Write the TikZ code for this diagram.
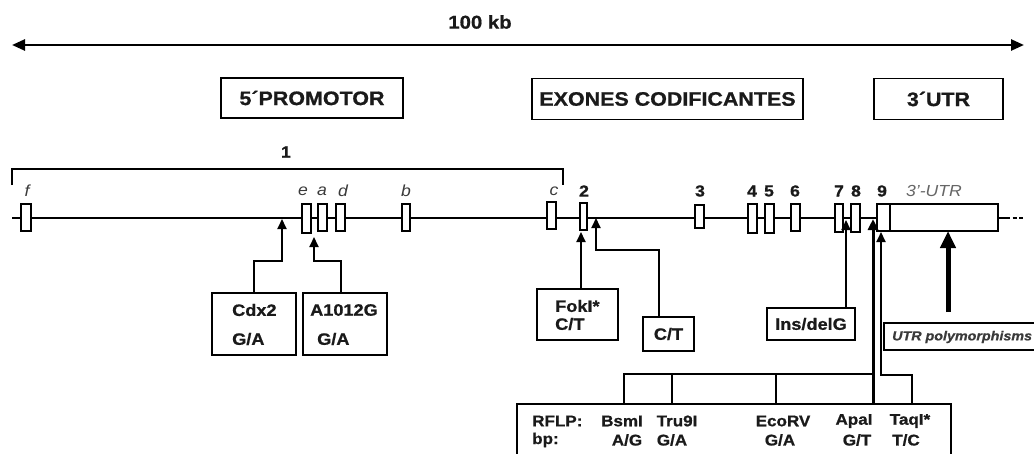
\documentclass[tikz,border=0pt]{standalone}
\usepackage{fontspec}
\setmainfont[FakeStretch=1.1, BoldFeatures={FakeBold=0.8}, BoldItalicFeatures={FakeBold=0.8}]{Liberation Sans}
\usetikzlibrary{arrows.meta}
\definecolor{txt}{HTML}{1A1A1A}
\definecolor{itxt}{HTML}{3A3A3A}
\begin{document}
\begin{tikzpicture}[x=1pt,y=-1pt,
  exon/.style={draw, line width=1.4pt, fill=white, inner sep=0pt},
  tbox/.style={draw, line width=1.4pt, inner sep=0pt, text=txt, font=\bfseries\fontsize{19.5}{22}\selectfont},
  lbox/.style={draw, line width=1.4pt, inner sep=0pt},
  num/.style={text=txt, inner sep=0pt, font=\bfseries\fontsize{16}{18}\selectfont},
  letter/.style={text=itxt, inner sep=0pt, font=\itshape\fontsize{16}{18}\selectfont},
  btxt/.style={text=txt, inner sep=0pt, font=\bfseries\fontsize{16.5}{19}\selectfont},
  rtxt/.style={text=txt, inner sep=0pt, font=\bfseries\fontsize{15.5}{18}\selectfont},
  conn/.style={line width=1.9pt, -{Triangle[length=10pt,width=9pt]}},
  plain/.style={line width=1.9pt}
]
\useasboundingbox (0,0) rectangle (1034,453);
\fill[white] (0,0) rectangle (1034,453);

% scale arrow
\coordinate (sl) at (12,45);
\coordinate (sr) at (1024,45);
\draw[line width=2.6pt, {Triangle[length=13pt,width=11pt]}-{Triangle[length=13pt,width=11pt]}] (sl) -- (sr);
\node[text=txt, inner sep=0pt, font=\bfseries\fontsize{18.5}{21}\selectfont] (kb) at (480,22) {100 kb};

% region boxes
\node[tbox, minimum width=182pt, minimum height=40pt] (prom) at (312,98) {5´PROMOTOR};
\node[tbox, minimum width=271pt, minimum height=41pt] (exo) at (667.5,99) {EXONES CODIFICANTES};
\node[tbox, minimum width=129pt, minimum height=41pt] (utr3) at (938.5,99) {3´UTR};

% exon 1 bracket
\coordinate (bl) at (12,185);
\coordinate (br) at (563,185);
\draw[line width=1.4pt] (bl) -- ++(0,-16) -| (br);
\node[num] (one) at (286,152) {1};

% gene line
\coordinate (gs) at (12,218);
\coordinate (ge) at (1006,218);
\coordinate (gd) at (1024,218);
\draw[line width=2.2pt] (gs) -- (ge);
\draw[line width=2.2pt, dash pattern=on 4pt off 2.5pt] (ge) -- (gd);

% exons
\node[exon, minimum width=10pt, minimum height=27pt] (xf) at (26,217.5) {};
\node[exon, minimum width=9pt, minimum height=29pt] (xe) at (306.5,218.5) {};
\node[exon, minimum width=9pt, minimum height=27pt] (xa) at (322.5,217.5) {};
\node[exon, minimum width=9pt, minimum height=27pt] (xd) at (340.5,217.5) {};
\node[exon, minimum width=8pt, minimum height=27pt] (xb) at (406,217.5) {};
\node[exon, minimum width=9pt, minimum height=27pt] (xc) at (551.5,215.5) {};
\node[exon, minimum width=7pt, minimum height=27pt] (x2) at (583.5,216.5) {};
\node[exon, minimum width=9pt, minimum height=23pt] (x3) at (699.5,216.5) {};
\node[exon, minimum width=9pt, minimum height=29pt] (x4) at (752.5,218.5) {};
\node[exon, minimum width=9pt, minimum height=29pt] (x5) at (769.5,218.5) {};
\node[exon, minimum width=9pt, minimum height=27pt] (x6) at (795.5,217.5) {};
\node[exon, minimum width=8pt, minimum height=28pt] (x7) at (839,218) {};
\node[exon, minimum width=9pt, minimum height=28pt] (x8) at (855.5,218) {};
\node[exon, minimum width=13pt, minimum height=27pt] (x9) at (883.5,217.5) {};
\node[exon, minimum width=108pt, minimum height=27pt] (xu) at (944,217.5) {};

% exon labels
\node[letter] (lf) at (27,191) {f};
\node[letter] (le) at (303,191) {e};
\node[letter] (la) at (322,191) {a};
\node[letter] (ld) at (343,191) {d};
\node[letter] (lb) at (406,191) {b};
\node[letter] (lc) at (554,191) {c};
\node[num] (n2) at (584,191) {2};
\node[num] (n3) at (700,191) {3};
\node[num] (n4) at (752,191) {4};
\node[num] (n5) at (769,191) {5};
\node[num] (n6) at (795,191) {6};
\node[num] (n7) at (839,191) {7};
\node[num] (n8) at (856,191) {8};
\node[num] (n9) at (882,191) {9};
\node[letter, text=gray!80!black, font=\itshape\fontsize{16}{18}\selectfont] (lutr) at (934,191) {3'-UTR};

% promoter polymorphisms
\node[lbox, minimum width=84pt, minimum height=62pt] (cdx) at (254,324) {};
\node[btxt, anchor=west] (cdxa) at (232,310) {Cdx2};
\node[btxt, anchor=west] (cdxb) at (232,339) {G/A};
\node[lbox, minimum width=84pt, minimum height=62pt] (a1012) at (345,324) {};
\node[btxt, anchor=west] (a1a) at (310,310) {A1012G};
\node[btxt, anchor=west] (a1b) at (317,339) {G/A};
\coordinate (cdxtip) at (282,219);
\coordinate (a1tip) at (314,237);
\draw[conn] (cdx.north) -- ++(0,-31) -| (cdxtip);
\draw[conn] ([xshift=-4pt]a1012.north) -- ++(0,-31) -| (a1tip);

% FokI and C/T
\node[lbox, minimum width=81pt, minimum height=51pt] (fok) at (577.5,314.5) {};
\node[btxt, anchor=west] (foka) at (555,306) {FokI*};
\node[btxt, anchor=west] (fokb) at (555,324) {C/T};
\coordinate (foktip) at (581,232);
\draw[conn] (fok.north -| foktip) -- (foktip);
\node[lbox, minimum width=51pt, minimum height=34pt, btxt] (ct) at (668.5,334) {C/T};
\coordinate (cttip) at (596,218);
\draw[conn] ([xshift=-9.5pt]ct.north) -- ++(0,-66) -| (cttip);

% Ins/delG
\node[lbox, minimum width=88pt, minimum height=32pt, btxt] (ins) at (811,324) {Ins/delG};
\coordinate (instip) at (846,220);
\draw[conn] (ins.north -| instip) -- (instip);

% UTR polymorphisms
\node[anchor=west, inner sep=0pt, text=itxt, font=\bfseries\itshape\fontsize{13}{15}\selectfont] (utrp) at (892,337) {UTR polymorphisms};
\coordinate (upr) at (1036,323);
\coordinate (upb) at (1036,350);
\draw[line width=1.4pt] (upr) -| (884,350) -- (upb);
\coordinate (bigs) at (948,312);
\coordinate (bigt) at (948,231);
\draw[line width=5pt, -{Triangle[length=17pt,width=15pt]}] (bigs) -- (bigt);

% RFLP box
\coordinate (rbl) at (517,460);
\coordinate (rbr) at (951,460);
\draw[line width=1.4pt] (rbl) |- (951,404) -- (rbr);
\node[rtxt, anchor=west] (rflp) at (532,421) {RFLP:};
\node[rtxt, anchor=west] (bp) at (532,440) {bp:};
\node[rtxt] (bsm) at (622,421) {BsmI};
\node[rtxt] (bsm2) at (627,440) {A/G};
\node[rtxt] (tru) at (677,421) {Tru9I};
\node[rtxt] (tru2) at (672,440) {G/A};
\node[rtxt] (eco) at (783,421) {EcoRV};
\node[rtxt] (eco2) at (780,440) {G/A};
\node[rtxt] (apa) at (854,421) {ApaI};
\node[rtxt] (apa2) at (857,440) {G/T};
\node[rtxt] (taq) at (910,421) {TaqI*};
\node[rtxt] (taq2) at (906,440) {T/C};

% RFLP connectors
\coordinate (hub) at (873,374);
\coordinate (bsmtop) at (624,404);
\coordinate (trutop) at (672,404);
\coordinate (ecotop) at (776,404);
\coordinate (apatop) at (873,404);
\coordinate (taqtop) at (912,404);
\coordinate (apatip) at (873,219);
\coordinate (taqtip) at (881,232);
\draw[plain] (bsmtop) |- (hub);
\draw[plain] (trutop) -- (trutop |- hub);
\draw[plain] (ecotop) -- (ecotop |- hub);
\draw[line width=3pt, -{Triangle[length=11pt,width=10pt]}] (apatop) -- (apatip);
\draw[conn] (taqtop) -- ++(0,-29) -| (taqtip);
\end{tikzpicture}
\end{document}
